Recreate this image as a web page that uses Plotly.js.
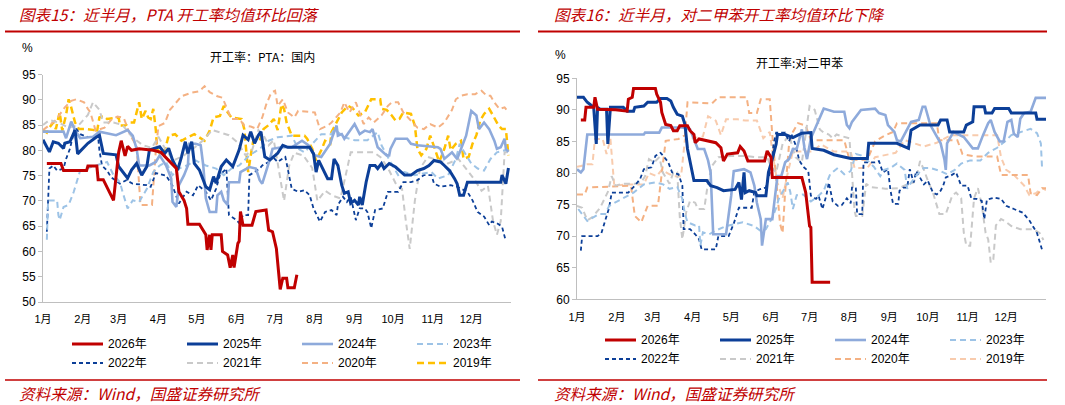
<!DOCTYPE html>
<html><head><meta charset="utf-8">
<script src="https://cdn.plot.ly/plotly-3.0.1.min.js"></script>
<style>html,body{margin:0;padding:0;background:#fff;}#chart{width:1065px;height:405px;}</style>
</head><body><div id="chart"></div>
<script>
// ---------- categories / ticks ----------
const monthTicks = [0,31,59,90,120,151,181,212,243,273,304,334];
const monthLabels = ['1月','2月','3月','4月','5月','6月','7月','8月','9月','10月','11月','12月'];
const yearNames = ['2026年','2025年','2024年','2023年','2022年','2021年','2020年','2019年'];

// ---------- PTA (left) : x = day of year, y = % ----------
const pta2026x = [3,14,16,34,35,42,43,47,55,57,59,61,64,66,69,75,86,92,99,104,106,110,112,113,122,127,128,130,131,132,139,140,144,146,148,149,152,153,154,156,163,166,174,176,179,181,182,185,187,190,191,196,198];
const pta2026y = [77.4,77.4,76.0,76.0,76.9,76.9,74.2,74.2,70.1,74.4,79.6,81.9,78.9,80.8,80.0,80.3,80.0,79.6,77.7,76.4,71.8,70.1,68.5,65.4,65.4,63.3,60.3,63.3,60.3,63.3,63.3,60.0,59.3,56.8,59.3,56.8,61.6,62.0,67.9,65.2,65.2,67.9,68.2,64.2,63.9,61.3,60.6,52.5,54.7,54.7,52.8,52.8,55.4];

const pta2025x = [0,5,8,12,16,17,21,24,25,27,35,42,44,47,57,59,66,69,73,77,81,83,91,95,98,101,105,108,111,113,116,118,122,127,130,133,135,139,143,148,153,156,160,162,165,168,170,173,177,183,187,191,208,211,213,215,218,222,225,227,230,233,235,238,240,243,246,247,249,252,255,259,261,264,266,270,275,282,287,292,297,301,305,310,313,317,321,323,325,328,331,357,358,361,363];
const pta2025y = [82.1,79.7,81.7,81.4,80.4,81.4,81.7,83.6,84.0,79.3,81.4,82.7,83.0,79.4,79.1,76.8,74.5,76.1,77.4,75.1,76.8,80.1,80.7,79.4,80.4,78.1,76.1,78.7,81.7,79.4,81.7,77.4,76.1,72.8,72.2,74.8,73.5,76.8,78.1,76.8,80.1,83.0,82.1,83.7,81.4,83.0,83.7,78.7,78.1,79.4,81.0,80.6,80.6,79.3,75.7,78.0,76.4,74.4,74.4,78.3,77.0,73.1,71.5,71.8,69.5,70.1,69.2,70.8,69.2,73.7,77.0,77.0,76.4,77.4,76.4,77.4,76.7,75.1,75.1,76.0,76.4,77.0,78.0,77.7,77.0,76.0,74.4,73.4,71.1,71.1,73.7,73.7,75.1,73.4,76.5];

const pta2024x = [0,16,18,22,25,29,39,44,57,66,70,73,75,83,88,91,96,100,101,104,106,110,113,114,119,123,125,127,130,135,136,139,141,144,145,153,154,161,166,169,171,174,177,179,186,194,202,207,212,217,221,224,226,229,230,233,235,240,243,247,251,255,257,261,268,270,271,275,284,287,292,308,310,313,319,323,327,330,334,338,340,344,348,352,354,357,360,361,363];
const pta2024y = [83.7,83.7,82.4,85.7,84.0,82.4,82.7,83.7,83.0,84.0,82.9,80.3,77.0,77.0,77.7,79.0,77.0,74.4,69.8,68.8,73.1,75.1,77.0,81.3,81.3,81.0,77.0,70.5,67.8,67.8,71.1,71.8,70.1,69.2,73.7,73.7,75.7,76.7,76.4,74.1,73.4,75.7,78.3,80.3,80.6,80.6,81.9,81.0,79.0,78.7,80.3,81.3,82.9,84.9,82.9,83.2,82.3,84.2,85.2,83.2,83.9,83.6,84.2,80.6,79.0,79.0,80.3,82.3,82.3,81.3,81.0,80.6,80.3,78.3,79.6,78.3,81.0,82.9,87.8,86.9,84.2,85.5,84.2,81.9,80.3,80.6,82.3,80.3,79.7];

const pta2023x = [3,4,11,12,13,16,20,24,29,34,40,50,55,60,62,66,70,75,81,86,91,96,101,106,112,119,127,135,141,147,153,161,169,176,183,194,199,204,209,217,225,227,235,243,253,261,264,268,271,277,282,290,303,308,316,322,325,327,334,339,344,349,354,360,363];
const pta2023y = [62.3,70.1,70.1,67.2,66.2,68.8,69.2,71.8,76.0,76.4,77.0,77.7,75.1,73.7,71.8,68.5,70.1,69.8,72.4,75.7,77.0,77.7,75.1,76.4,77.0,78.0,77.0,76.4,75.1,76.4,77.0,79.0,80.3,81.9,82.6,82.9,80.3,79.6,81.0,83.2,83.2,84.2,82.6,82.0,82.0,83.6,81.0,79.0,77.7,75.1,75.7,75.1,75.7,74.4,75.1,78.3,81.3,80.3,77.4,76.4,76.0,78.3,79.6,80.0,80.0];

const pta2022x = [3,5,8,11,16,18,21,24,25,29,35,43,44,46,50,53,60,65,70,81,84,88,96,101,104,106,112,117,121,127,131,135,138,143,145,151,153,156,160,161,165,169,171,176,178,183,189,194,199,204,208,211,216,220,225,229,230,234,237,240,244,247,251,253,256,259,265,269,277,281,287,292,297,303,305,310,318,323,331,335,339,344,348,350,354,358,361];
const pta2022y = [63.9,76.4,77.0,76.0,76.4,78.3,80.3,83.2,84.6,83.2,82.6,82.6,80.0,77.0,76.0,74.7,73.4,74.1,73.4,73.1,72.8,75.5,75.0,73.0,71.1,69.5,71.8,71.1,73.1,71.8,70.1,72.4,75.1,76.4,67.2,66.2,65.6,67.2,67.2,75.1,75.7,76.4,77.0,77.7,79.0,77.7,78.7,72.4,71.8,72.1,71.1,68.5,65.9,67.8,68.2,67.2,69.2,70.8,69.8,70.8,66.2,68.5,68.5,67.8,64.6,68.2,68.5,71.8,71.8,73.7,73.7,74.1,75.1,75.1,73.4,72.8,73.1,72.8,71.8,70.1,67.8,66.9,65.2,65.9,65.6,64.9,62.0];

const pta2021x = [0,5,12,20,28,35,39,44,47,55,62,70,78,85,90,96,102,110,118,125,132,138,145,152,158,163,168,172,176,180,184,188,192,196,203,210,214,220,226,232,236,240,246,252,258,264,270,276,280,283,286,290,294,300,308,316,324,330,336,342,347,351,354,357,360,363];
const pta2021y = [85,86,85.5,84.5,85,87,89.5,88,85.5,85.5,85,82.5,81,80.5,82.7,80,78,79,80.5,82,84,83.5,83,81.5,79,80,84,83,81,82,76,70,77,79.5,79,76.5,70,72,71,70.5,75,79.6,79.6,79.6,79.6,78.5,76,73,72.4,66,60.5,70,76.4,78.7,78,77.4,78.3,76.4,74.4,72,73,66,63.3,66,79.6,79.6];

const pta2020x = [0,5,10,17,22,26,32,35,37,41,48,53,58,63,68,73,75,76,85,88,90,95,99,104,108,116,122,126,130,136,140,144,147,153,157,162,167,171,174,178,181,183,187,191,196,199,212,216,222,225,232,235,239,244,247,250,254,258,264,269,272,277,281,286,292,297,302,308,313,319,322,326,331,337,342,346,349,352,356,360,363];
const pta2020y = [84,85,86,88.5,89.8,90.1,89.5,88.2,87.5,83.9,84.5,86,86.7,86.4,83,80.8,72.4,69.2,69.2,80,84.8,85.4,88,89.5,90.7,91.4,91.7,92.7,91.5,90.7,90.4,88,86.2,86.2,84.9,84.7,84.2,86.5,89,91.4,91.8,88.8,90.1,87.5,86.5,87.8,87.5,84.2,84.9,85.5,87.5,89.5,87.5,89.5,87.5,85.2,86.5,85.5,86.9,88.8,89.5,89.5,87.5,86.2,84.5,84.2,85.2,84.5,85.5,88,90.1,90.8,91.1,91.1,91.8,90.8,90.8,89.5,88.2,88.5,87.5];

const pta2019x = [0,3,5,8,10,13,15,18,20,22,25,28,34,40,42,44,47,50,59,60,64,67,71,75,77,80,82,84,86,88,89,92,95,98,103,108,113,118,126,130,133,138,141,144,147,155,157,159,160,162,164,169,172,176,180,183,186,188,190,194,204,206,210,213,217,220,224,225,230,233,238,242,246,251,256,263,264,268,272,275,278,281,287,290,292,295,299,302,306,309,313,316,318,322,326,328,332,335,338,341,344,348,351,355,358,361,363];
const pta2019y = [84,83.5,84.5,85.5,84.2,87.5,83.9,87,90.1,88.5,85.5,84.2,84.2,84,83.5,86.5,86.8,86.2,86.5,84.9,84.9,85.5,85.5,89.5,86.2,87.8,86.5,86.2,88.2,84,80.3,79,80,82.9,83.2,81.9,82.6,83.2,81.9,83.9,86.5,86.8,88.8,87.5,86.5,86.2,84.2,79,75.7,79,81.9,81.9,84.2,85,86.2,84,89.1,88.2,85.5,82.9,82.9,82.3,80.3,78,80,81.9,81.3,83.6,86,87.5,88.8,88.2,86.9,87.5,90.1,90.1,88.2,88,86.9,85.9,86.2,87.5,87.2,84.9,80.3,79,80.3,82.9,80,77.7,80.3,82.9,80,81.3,81.9,78.3,78.7,81.3,83,85.9,87.2,88.2,86.9,85,84.2,84.2,79];

// ---------- PX (right) ----------
const px2026x = [3,6,7,13,14,16,30,39,40,43,44,61,62,65,66,69,73,75,78,80,86,88,91,92,95,108,112,114,117,125,127,130,133,146,148,151,152,175,178,181,182,183,197];
const px2026y = [88.4,88.4,90.4,90.4,92.0,90.1,90.0,89.8,91.7,92.0,93.4,93.4,92.5,91.2,89.6,87.7,87.5,86.7,86.7,87.5,87.5,86.7,86.1,84.8,85.4,84.8,84.0,81.9,83.0,83.2,84.2,83.5,81.9,81.9,83.5,82.5,79.3,79.3,76.9,71.6,71.4,62.7,62.7];

const px2025x = [0,5,8,10,13,15,16,18,23,24,26,36,39,44,45,52,55,62,65,70,73,75,78,82,84,86,88,91,101,104,109,112,114,123,126,128,130,131,134,139,140,147,148,149,152,155,156,162,168,175,182,183,192,200,213,226,227,249,258,260,267,281,283,288,290,301,303,308,309,317,318,323,325,336,338,357,358,365];
const px2025y = [92,92,91.2,90.9,90.4,84.6,90.4,90.1,90.1,84.6,90.4,90.4,89.8,89.8,90.4,90.6,91.2,91.2,91.8,91.8,91.4,90.4,89.3,89.0,87.7,83.8,81.7,78.8,78.8,78.0,77.7,77.4,77.2,77.4,78.5,75.8,80.1,76.9,77.2,76.9,76.4,76.4,78.0,80.1,82.2,84.6,86.1,86.1,85.6,86.3,86.4,83.9,83.6,82.9,82.3,82.3,84.7,84.7,83.9,86.8,87.6,87.6,88.4,88.4,86.5,86.5,87.6,88.1,90.5,90.5,89.5,89.5,90.2,90.2,89.5,89.5,88.5,88.5];

const px2024x = [0,3,5,8,52,53,64,66,82,88,91,94,99,102,104,105,106,116,118,120,122,130,135,138,140,143,144,147,152,154,156,159,162,165,168,171,173,175,177,179,182,186,190,192,200,208,210,212,214,221,232,235,240,242,247,249,252,260,266,269,271,275,283,286,287,288,293,301,308,312,316,320,322,325,329,332,335,338,340,343,345,348,353,357,365];
const px2024y = [80.6,80.1,80.6,86.1,86.1,86.4,86.4,87.2,87.2,86.9,85.4,83.8,83.8,82.0,80.1,75.0,70.3,70.3,73.0,76.4,80.3,80.6,80.1,78.0,75.3,72.7,68.5,72.7,72.7,76.0,79.5,79.5,81.7,82.2,83.8,83.8,85.5,86.9,84.0,82.2,85.5,87.5,89.5,90.2,89.7,89.7,87.6,87.1,88.1,90.0,90.2,89.5,89.2,87.6,86.5,85.2,85.0,88.1,88.4,90.5,90.5,87.6,84.7,82.1,80.5,84.7,86.5,85.7,83.9,83.9,86.0,87.9,88.4,86.5,85.0,85.0,88.1,88.4,86.2,85.7,88.6,89.5,89.7,91.9,91.9];

const px2023x = [1,8,17,22,25,35,44,52,61,67,72,78,82,84,86,92,95,96,98,103,107,116,124,129,138,143,147,152,155,157,160,164,166,168,171,176,182,187,192,197,203,208,213,217,221,226,231,236,239,244,249,255,257,260,265,270,275,283,288,294,299,306,314,320,327,333,338,346,353,358,361,362];
const px2023y = [74.3,72.4,73.5,73.5,74.8,75.9,76.9,78.2,78.5,78.2,77.5,77.8,75.9,73.5,72.2,71.7,71.7,68.5,70.6,70.3,70.8,71.6,72.0,72.2,71.6,70.8,71.1,72.9,74.5,75.9,77.0,78.5,77.0,74.3,76.5,76.6,75.5,76.2,77.2,79.8,80.8,79.8,80.3,83.0,82.8,82.0,81.0,79.5,80.5,80.8,81.5,80.5,77.5,78.5,79.8,80.8,80.8,80.3,79.8,80.5,81.5,82.0,82.0,83.2,84.0,85.0,86.0,86.5,87.0,86.3,84.7,80.5];

const px2022x = [3,4,16,19,22,25,27,40,45,49,52,58,61,65,68,71,74,79,82,83,88,92,95,97,108,110,118,122,126,136,138,142,147,150,152,153,155,162,165,167,170,173,176,178,180,182,186,188,191,194,196,199,203,206,210,213,214,217,218,222,223,232,235,238,242,244,246,250,251,254,257,259,262,264,267,270,273,277,280,283,285,287,291,295,299,304,307,311,315,317,319,325,330,334,340,347,352,355,358,362];
const px2022y = [67.7,70,70,70.5,72.5,74.5,76.9,76.9,78,79,80.6,80.9,82.7,83.2,82.5,81.7,80.1,79.8,78,71.1,71.1,70.3,69.5,67.9,67.9,70,70,72,74.5,74.5,77,77.4,77.7,80,82.5,84.6,86.4,86.4,85,86.1,84.5,82,81,80.6,80.3,76.4,75.9,76.4,74.3,76.4,78.5,75.5,74.8,74.9,76,75.2,77.7,77.7,73.5,73.5,81.7,81.7,81.9,80.1,80.6,77.2,75.1,75.1,77.2,77.7,77.7,80.6,78.5,80.3,79.2,78.2,78.8,76.9,76.6,77.2,78,79.3,79.6,80.1,78,78,75.9,75.9,75.6,72.7,75.8,76.1,75.9,74.8,74.3,73.7,72.5,71.4,70.5,67.8];

const px2021x = [0,4,8,12,18,24,27,30,35,45,50,53,56,60,64,67,72,75,78,80,82,85,88,92,94,99,102,105,110,120,131,140,148,151,155,160,165,170,175,178,181,185,189,192,196,199,202,205,212,214,216,217,222,225,228,240,250,257,262,265,267,270,273,277,280,282,287,292,295,299,301,303,306,309,312,315,318,320,322,324,326,330,333,338,345,355,360,363];
const px2021y = [74.8,74.5,72.5,73,74.5,77,79.5,78,78.3,78.3,78.5,79.5,82.2,81.7,82.5,80,78.3,80.1,80.1,73,69.5,73.8,75.6,75.3,74.3,74.3,78.5,81.1,82.5,82.7,82.7,82.5,82.5,81,80.1,84.6,86,82.5,81.7,86,90.6,90,86.9,86.4,86.1,85.5,86.1,85.9,85.5,80,74,73.2,73.2,78.3,77.8,77.5,77.6,78.2,78.5,80.1,81.9,80.5,78.8,76.9,74.8,73.5,73.5,76.4,76.9,76,70.6,68.5,68.5,76,77.6,75,70.5,69.5,65.8,66.3,71.7,72.7,72.4,71.6,71.1,71.1,70.5,69.4];

const px2020x = [0,6,8,42,45,50,55,63,66,69,79,84,86,100,105,110,132,134,140,143,150,152,155,158,160,162,165,168,172,178,182,190,208,212,226,232,240,246,249,265,280,282,296,300,310,327,330,351,353,358,362,365];
const px2020y = [76.6,76.6,77.7,78.0,73.2,72.2,74.8,74.8,80,85.1,85.4,86,91.2,91,91,92,92,89.5,89.5,91.7,91.7,86,79,72,70.5,77,84.5,86.5,87.9,87.5,85.2,85.2,85.2,82.1,82.1,85,86,86.5,87.9,87.9,87.9,85.2,85.2,83,82.6,82.6,79.7,79.7,76.8,76.5,77.6,77.6];

const px2019x = [0,3,8,12,14,20,23,26,29,40,52,56,62,66,72,76,81,84,90,98,102,108,112,116,125,131,140,145,150,153,156,160,164,168,183,190,200,213,216,226,232,240,248,255,262,270,280,291,327,330,334,340,348,352,357,362,365];
const px2019y = [81,81.1,81.4,81.4,85.4,85.4,83,85.4,78,78.2,78.2,80,79.5,80.5,79.8,79.5,79.5,85.3,85.5,85.8,89,88.3,86,88.5,88.5,88.3,88.3,85.5,86.5,82,78.5,76,80,83.4,83.4,84.5,83.4,83.4,80.8,80.8,82.5,82.8,83.2,85.2,84.7,84.2,84.8,86,86,82.5,80.5,79.7,78,76.5,76.8,77.6,77.3];

// ---------- styles (kept apart from data) ----------
const W = 1065, H = 405;
const DARK = '#0C3F98';
const leftStyles = [
  {color:'#C00000', width:3, dash:'solid'},
  {color:DARK, width:3, dash:'solid'},
  {color:'#8EAADB', width:2.6, dash:'solid'},
  {color:'#9DC3E6', width:2, dash:'6px,4px'},
  {color:DARK, width:1.8, dash:'4px,3px'},
  {color:'#C9C9C9', width:2, dash:'6px,4px'},
  {color:'#F4B183', width:2, dash:'6px,4px'},
  {color:'#FFC000', width:2.5, dash:'7px,4px'}
];
const rightStyles = leftStyles.slice(0,7).concat([{color:'#F8CBAD', width:2, dash:'6px,4px'}]);

const leftData = [[pta2026x,pta2026y],[pta2025x,pta2025y],[pta2024x,pta2024y],[pta2023x,pta2023y],[pta2022x,pta2022y],[pta2021x,pta2021y],[pta2020x,pta2020y],[pta2019x,pta2019y]];
const rightData = [[px2026x,px2026y],[px2025x,px2025y],[px2024x,px2024y],[px2023x,px2023y],[px2022x,px2022y],[px2021x,px2021y],[px2020x,px2020y],[px2019x,px2019y]];

const traces = [];
for (let i = 7; i >= 0; i--) {
  traces.push({x:leftData[i][0], y:leftData[i][1], type:'scatter', mode:'lines', name:yearNames[i],
    xaxis:'x', yaxis:'y', line:{color:leftStyles[i].color, width:leftStyles[i].width, dash:leftStyles[i].dash}, hoverinfo:'skip'});
}
for (let i = 7; i >= 0; i--) {
  traces.push({x:rightData[i][0], y:rightData[i][1], type:'scatter', mode:'lines', name:yearNames[i],
    xaxis:'x2', yaxis:'y2', line:{color:rightStyles[i].color, width:rightStyles[i].width, dash:rightStyles[i].dash}, hoverinfo:'skip'});
}

const px = v => v / W;
const py = v => 1 - v / H;
const FONT = 'Liberation Sans, Arial, Noto Sans CJK SC, sans-serif';
const CJK = 'Noto Sans CJK SC, sans-serif';
const RED = '#C00000';

function xAxis(domain, anchor) {
  return {domain:domain, anchor:anchor, range:[0,365], tickmode:'array', tickvals:monthTicks, ticktext:monthLabels,
    showgrid:false, zeroline:false, showline:true, linecolor:'#BFBFBF', linewidth:1, ticks:'',
    tickfont:{size:11, family:FONT, color:'#000'}, ticklabelstandoff:7, fixedrange:true};
}
function yAxis(domain, anchor, range) {
  return {domain:domain, anchor:anchor, range:range, dtick:5, tick0:0, showgrid:false, zeroline:false,
    showline:true, linecolor:'#BFBFBF', linewidth:1, ticks:'outside', ticklen:4, tickcolor:'#BFBFBF',
    tickfont:{size:12, family:FONT, color:'#000'}, fixedrange:true};
}

const shapes = [];
const annotations = [];
function hline(x0, x1, y, color, width, dash) {
  shapes.push({type:'line', xref:'paper', yref:'paper', x0:px(x0), x1:px(x1), y0:py(y), y1:py(y),
    line:{color:color, width:width, dash:dash||'solid'}});
}
function text(t, x, y, opts) {
  annotations.push(Object.assign({text:t, xref:'paper', yref:'paper', x:px(x), y:py(y), showarrow:false,
    xanchor:'left', yanchor:'middle', font:{size:12, family:FONT, color:'#000'}}, opts||{}));
}

// headers
const headFont = {size:15.6, family:CJK, color:RED, style:'italic'};
text('图表15：近半月，PTA 开工率均值环比回落', 17, 14, {font:headFont});
text('图表16：近半月，对二甲苯开工率均值环比下降', 552, 14, {font:headFont});
hline(5, 520, 31.5, RED, 2);
hline(538, 1047, 31.5, RED, 2);
hline(5, 520, 380, RED, 1.5);
hline(538, 1047, 380, RED, 1.5);
text('资料来源：Wind，国盛证券研究所', 17, 393, {font:headFont});
text('资料来源：Wind，国盛证券研究所', 552, 393, {font:headFont});

// axis unit + chart titles
text('%', 27, 48, {xanchor:'center', font:{size:12, family:FONT, color:'#000'}});
text('%', 560, 55, {xanchor:'center', font:{size:12, family:FONT, color:'#000'}});
text('开工率：PTA：国内', 262, 56, {xanchor:'center', font:{size:12, family:CJK, color:'#000'}});
text('开工率:对二甲苯', 799, 62, {xanchor:'center', font:{size:12, family:CJK, color:'#000'}});

// legends (manual grid, 4 columns x 2 rows)
function legend(colX, rowY, styles) {
  for (let i = 0; i < 8; i++) {
    const cx = colX[i % 4], cy = rowY[Math.floor(i / 4)];
    const s = styles[i];
    hline(cx, cx + 31, cy, s.color, Math.max(s.width, 2.2), s.dash);
    text(yearNames[i], cx + 34, cy, {font:{size:12, family:FONT, color:'#000'}});
  }
}
legend([72,187,302,417], [344,363], leftStyles);
legend([605,720,835,950], [340,359], rightStyles);

const layout = {
  width:W, height:H, margin:{l:0,r:0,t:0,b:0}, paper_bgcolor:'#fff', plot_bgcolor:'rgba(0,0,0,0)',
  showlegend:false, font:{family:FONT, size:12, color:'#000'},
  xaxis: xAxis([px(43), px(511)], 'y'),
  yaxis: yAxis([py(302), py(74.5)], 'x', [50,95]),
  xaxis2: xAxis([px(577), px(1046)], 'y2'),
  yaxis2: yAxis([py(299.3), py(78.3)], 'x2', [60,95]),
  shapes: shapes, annotations: annotations
};

Plotly.newPlot('chart', traces, layout, {staticPlot:true, displayModeBar:false});
</script>
</body></html>
